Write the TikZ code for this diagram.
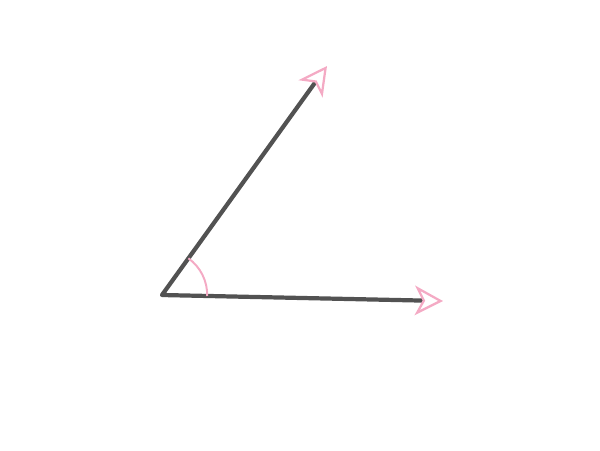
\documentclass[tikz,border=0pt]{standalone}
\usepackage{tikz}
\usetikzlibrary{arrows.meta,angles}
\definecolor{raygray}{RGB}{82, 82, 82}
\definecolor{blush}{RGB}{244, 170, 196}

\begin{document}
\begin{tikzpicture}[x=0.025cm, y=-0.025cm,
        ray/.style={color=raygray, line width=3pt, line join=round,
                    {Stealth[open, length=20pt, width=21pt, inset=5.5pt, line width=1.6pt, blush]}-{Stealth[open, length=20pt, width=21pt, inset=5.5pt, line width=1.6pt, blush]}},
        mark arc/.style={draw=blush, line width=1.4pt, angle radius=1.13cm}]
            \useasboundingbox                                  (0, 0) rectangle (600, 450);
            \coordinate (O) at (162, 295);
            \coordinate (A) at (327, 66);
            \coordinate (B) at (443, 301);
            \draw[ray] (A) -- (O) -- (B);
            \pic[mark arc] {angle = B--O--A};
        \end{tikzpicture}
\end{document}
